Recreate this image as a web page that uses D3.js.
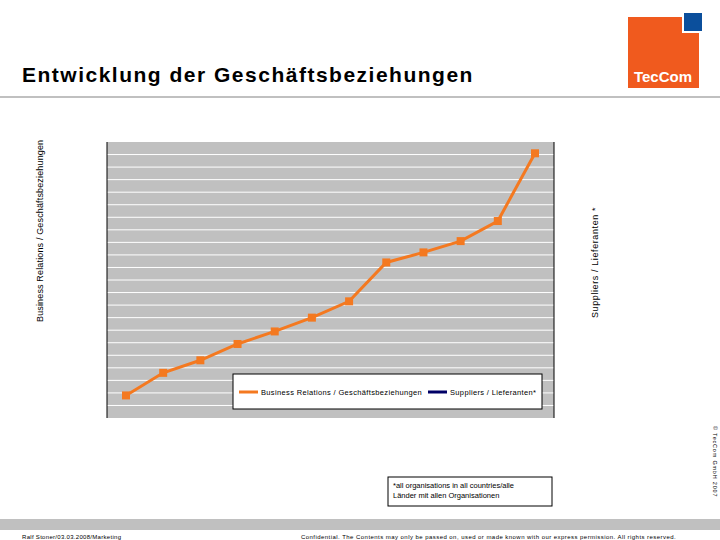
<!DOCTYPE html>
<html><head><meta charset="utf-8">
<script src="https://cdn.jsdelivr.net/npm/d3@7"></script>
<style>body{margin:0;background:#fff}svg{display:block}</style>
</head><body>
<svg id="chart" width="720" height="540"></svg>
<script>
var periods = [1, 2, 3, 4, 5, 6, 7, 8, 9, 10, 11, 12];
var relations = [1.8, 3.6, 4.6, 5.9, 6.9, 8.0, 9.3, 12.4, 13.2, 14.1, 15.7, 21.1];
var gridTicks = d3.range(1, 22);

var svg = d3.select("#chart");
var font = "Liberation Sans, Arial, sans-serif";

// header
svg.append("text").attr("x", 22).attr("y", 82)
    .attr("font-family", font).attr("font-size", 21).attr("font-weight", "bold")
    .attr("letter-spacing", 1.5)
    .text("Entwicklung der Geschäftsbeziehungen");
svg.append("line").attr("x1", 0).attr("x2", 720).attr("y1", 97).attr("y2", 97)
    .attr("stroke", "#c0c0c0").attr("stroke-width", 2);

// logo
svg.append("rect").attr("x", 628).attr("y", 17).attr("width", 71).attr("height", 71).attr("fill", "#f05a1e");
svg.append("rect").attr("x", 683).attr("y", 12).attr("width", 20).attr("height", 20)
    .attr("fill", "#0b4f9c").attr("stroke", "#fff").attr("stroke-width", 2);
svg.append("text").attr("x", 663).attr("y", 82).attr("text-anchor", "middle")
    .attr("font-family", font).attr("font-size", 15).attr("font-weight", "bold")
    .attr("fill", "#fff").text("TecCom");

// plot
var x = d3.scalePoint().domain(periods).range([126, 535]);
var y = d3.scaleLinear().domain([0, 22]).range([418, 142]);

svg.append("rect").attr("x", 107).attr("y", 142).attr("width", 447).attr("height", 276).attr("fill", "#c0c0c0");
svg.append("g").selectAll("line").data(gridTicks).enter().append("line")
    .attr("x1", 107).attr("x2", 554)
    .attr("y1", function(d){ return y(d); }).attr("y2", function(d){ return y(d); })
    .attr("stroke", "#fff").attr("stroke-width", 1);
svg.append("line").attr("x1", 107).attr("x2", 107).attr("y1", 142).attr("y2", 418).attr("stroke", "#000");
svg.append("line").attr("x1", 554).attr("x2", 554).attr("y1", 142).attr("y2", 418).attr("stroke", "#000");

var line = d3.line().x(function(d, i){ return x(periods[i]); }).y(function(d){ return y(d); });
svg.append("path").datum(relations).attr("d", line)
    .attr("fill", "none").attr("stroke", "#f47920").attr("stroke-width", 3);
svg.append("g").selectAll("rect").data(relations).enter().append("rect")
    .attr("x", function(d, i){ return x(periods[i]) - 4; })
    .attr("y", function(d){ return y(d) - 4; })
    .attr("width", 8).attr("height", 8).attr("fill", "#f47920");

// legend
var lg = svg.append("g").attr("transform", "translate(233,374)");
lg.append("rect").attr("width", 309).attr("height", 35).attr("fill", "#fff").attr("stroke", "#000");
lg.append("line").attr("x1", 6).attr("x2", 25).attr("y1", 18).attr("y2", 18).attr("stroke", "#f47920").attr("stroke-width", 3);
lg.append("text").attr("x", 28).attr("y", 21).attr("font-family", font).attr("font-size", 7.5)
    .attr("letter-spacing", 0.35).text("Business Relations / Geschäftsbeziehungen");
lg.append("line").attr("x1", 195).attr("x2", 214).attr("y1", 18).attr("y2", 18).attr("stroke", "#000066").attr("stroke-width", 3);
lg.append("text").attr("x", 217).attr("y", 21).attr("font-family", font).attr("font-size", 7.5)
    .attr("letter-spacing", 0.35).text("Suppliers / Lieferanten*");

// axis titles
svg.append("text").attr("transform", "translate(43,322) rotate(-90)")
    .attr("font-family", font).attr("font-size", 9).attr("letter-spacing", 0.15)
    .text("Business Relations / Geschäftsbeziehungen");
svg.append("text").attr("transform", "translate(598,318) rotate(-90)")
    .attr("font-family", font).attr("font-size", 9).attr("letter-spacing", 0.6)
    .text("Suppliers / Lieferanten *");

// note
svg.append("rect").attr("x", 388).attr("y", 477).attr("width", 164).attr("height", 29).attr("fill", "#fff").attr("stroke", "#000");
svg.append("text").attr("x", 393).attr("y", 488).attr("font-family", font).attr("font-size", 7.5).text("*all organisations in all countries/alle");
svg.append("text").attr("x", 393).attr("y", 498).attr("font-family", font).attr("font-size", 7.5).text("Länder mit allen Organisationen");

// footer
svg.append("rect").attr("x", 0).attr("y", 519).attr("width", 720).attr("height", 11).attr("fill", "#c0c0c0");
svg.append("text").attr("x", 22).attr("y", 539).attr("font-family", font).attr("font-size", 6)
    .attr("letter-spacing", 0.3).text("Ralf Stoner/03.03.2008/Marketing");
svg.append("text").attr("x", 301).attr("y", 539).attr("font-family", font).attr("font-size", 6)
    .attr("letter-spacing", 0.45)
    .text("Confidential. The Contents may only be passed on, used or made known with our express permission. All rights reserved.");
svg.append("text").attr("transform", "translate(713,426) rotate(90)")
    .attr("font-family", font).attr("font-size", 5.5).attr("letter-spacing", 0.8).text("© TecCom GmbH 2007");
</script>
</body></html>
